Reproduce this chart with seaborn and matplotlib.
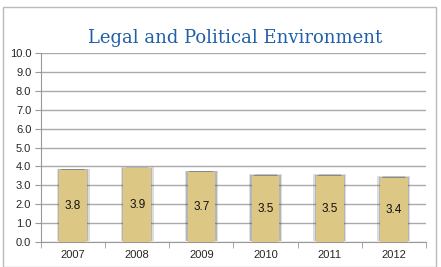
import matplotlib
matplotlib.use("Agg")
import matplotlib.pyplot as plt
import matplotlib.patheffects as pe
from matplotlib.patches import Rectangle
import seaborn as sns
import pandas as pd

# data
years = ["2007", "2008", "2009", "2010", "2011", "2012"]
scores = [3.8, 3.9, 3.7, 3.5, 3.5, 3.4]
y_ticks = [0, 1, 2, 3, 4, 5, 6, 7, 8, 9, 10]

df = pd.DataFrame({"Year": years, "Score": scores})

sns.set_style("white")
plt.rcParams['font.family'] = ['Liberation Sans', 'DejaVu Sans']

fig = plt.figure(figsize=(4.41, 2.67), dpi=100)
ax = fig.add_axes([41 / 441, 1 - 242 / 267, 385 / 441, 189 / 267])

sns.barplot(x="Year", y="Score", data=df, color="#dcc784", saturation=1,
            width=0.43, linewidth=0, ax=ax, zorder=3)
# soft shadow around the bars
for p in ax.patches:
    p.set_path_effects([pe.SimplePatchShadow(offset=(2, 1), shadow_rgbFace="#444444", alpha=0.18),
                        pe.SimplePatchShadow(offset=(-2, 1), shadow_rgbFace="#444444", alpha=0.18),
                        pe.SimplePatchShadow(offset=(1, 0.5), shadow_rgbFace="#444444", alpha=0.25),
                        pe.SimplePatchShadow(offset=(-1, 0.5), shadow_rgbFace="#444444", alpha=0.25),
                        pe.Normal()])
    h = p.get_height()
    ax.text(p.get_x() + p.get_width() / 2, h / 2, f"{h:.1f}", ha="center", va="center",
            fontsize=8.5, color="#111111", zorder=4)

ax.set_ylim(0, 10)
ax.set_xlim(-0.5, len(years) - 0.5)
ax.set_yticks(y_ticks)
ax.set_yticklabels([f"{v:.1f}" for v in y_ticks], fontsize=8)
ax.tick_params(axis="x", labelsize=8, length=0, pad=6)
ax.tick_params(axis="y", length=4, color="#999999", pad=3, left=True)
ax.grid(axis="y", color="#aaaaaa", linewidth=1, zorder=0)
ax.set_axisbelow(True)
for s in ["top", "right"]:
    ax.spines[s].set_visible(False)
ax.spines["left"].set_color("#999999")
ax.spines["bottom"].set_color("#999999")
# category boundary ticks on x axis
ax.set_xticks([i - 0.5 for i in range(len(years) + 1)], minor=True)
ax.tick_params(axis="x", which="minor", length=4, color="#999999", bottom=True)
ax.set_xlabel("")
ax.set_ylabel("")

fig.text(0.533, 1 - 38 / 267, "Legal and Political Environment", ha="center", va="center",
         fontsize=13, color="#1f5fa8", family="DejaVu Serif")

fig.patches.append(Rectangle((3 / 441, 0), 433 / 441, 1 - 7 / 267, transform=fig.transFigure,
                             fill=False, edgecolor="#bbbbbb", linewidth=1))

fig.savefig("out.png", dpi=100)
